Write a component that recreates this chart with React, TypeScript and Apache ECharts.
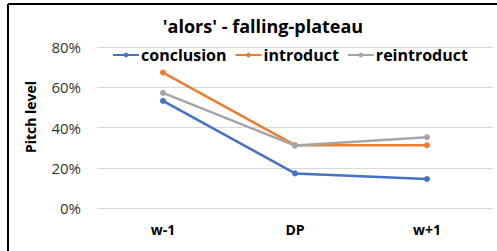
import React, { useEffect, useRef } from "react";
import * as echarts from "echarts";

const categories = ["w-1", "DP", "w+1"];
const conclusion = [0.532, 0.172, 0.144];
const introduct = [0.673, 0.312, 0.312];
const reintroduct = [0.572, 0.31, 0.352];
const yTicks = [0, 0.2, 0.4, 0.6, 0.8];

const FONT = "'Open Sans', 'DejaVu Sans', sans-serif";

export default function App() {
  const ref = useRef<HTMLDivElement>(null);
  useEffect(() => {
    if (!ref.current) return;
    const chart = echarts.init(ref.current, undefined, { renderer: "svg" });
    const mk = (name: string, data: number[], color: string) => ({
      name,
      type: "line",
      data,
      color,
      symbol: "circle",
      symbolSize: 6,
      lineStyle: { width: 2.5, color },
      itemStyle: { color },
    });
    chart.setOption({
      animation: false,
      backgroundColor: "#ffffff",
      title: {
        text: "'alors' - falling-plateau",
        left: 258,
        top: 12,
        textAlign: "center",
        textStyle: { fontFamily: FONT, fontSize: 18, fontWeight: "bold", color: "#000" },
      },
      legend: {
        top: 42,
        left: 107,
        itemWidth: 26,
        itemHeight: 6,
        itemGap: 8,
        textStyle: { fontFamily: FONT, fontSize: 16, fontWeight: "bold", color: "#000", padding: [0, 0, 0, -3] },
        data: ["conclusion", "introduct", "reintroduct"],
      },
      grid: { left: 97, right: 4, top: 47, bottom: 43, containLabel: false },
      xAxis: {
        type: "category",
        data: categories,
        boundaryGap: true,
        axisLine: { show: false },
        axisTick: { show: false },
        axisLabel: { margin: 14, fontFamily: FONT, fontSize: 14, fontWeight: "bold", color: "#000" },
      },
      yAxis: {
        type: "value",
        min: yTicks[0],
        max: yTicks[yTicks.length - 1],
        interval: 0.2,
        axisLine: { show: false },
        axisTick: { show: false },
        splitLine: { lineStyle: { color: "#d9d9d9", width: 1 } },
        axisLabel: {
          margin: 16,
          fontFamily: FONT,
          fontSize: 15,
          color: "#333",
          formatter: (v: number) => Math.round(v * 100) + "%",
        },
      },
      graphic: [
        {
          type: "line",
          shape: { x1: 8, y1: 4, x2: 497, y2: 4 },
          style: { stroke: "#000", lineWidth: 2 },
        },
        {
          type: "line",
          shape: { x1: 8, y1: 4, x2: 8, y2: 251 },
          style: { stroke: "#000", lineWidth: 2 },
        },
        {
          type: "text",
          x: 30,
          y: 117,
          rotation: Math.PI / 2,
          style: {
            text: "Pitch level",
            fontFamily: FONT,
            fontSize: 14,
            fontWeight: "bold",
            fill: "#000",
            align: "center",
            verticalAlign: "middle",
          },
        },
      ],
      series: [
        mk("conclusion", conclusion, "#4472C4"),
        mk("introduct", introduct, "#ED7D31"),
        mk("reintroduct", reintroduct, "#A5A5A5"),
      ],
    });
    return () => chart.dispose();
  }, []);
  return (
    <div
      ref={ref}
      style={{ position: "fixed", left: 0, top: 0, width: 497, height: 251 }}
    />
  );
}
